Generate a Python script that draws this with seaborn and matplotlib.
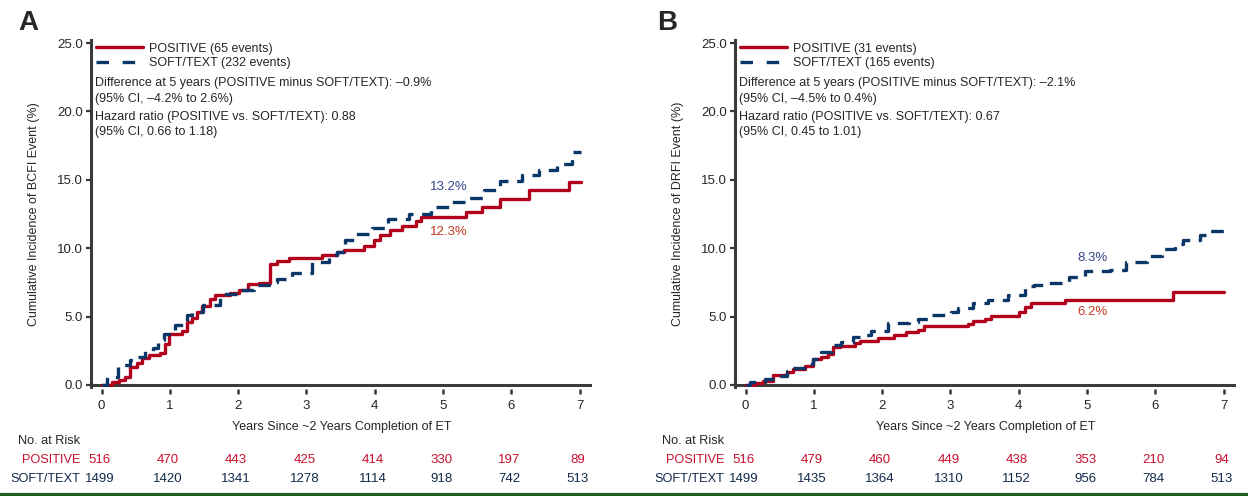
import numpy as np
import pandas as pd
import matplotlib.pyplot as plt
import matplotlib.transforms as mtransforms
import seaborn as sns

# curve values (years, cumulative incidence %)
a_pos_t = [0, 0.15, 0.25, 0.34, 0.41, 0.52, 0.59, 0.69, 0.86, 0.93, 0.99, 1.18, 1.25, 1.32, 1.40, 1.47,
           1.59, 1.66, 1.88, 2.01, 2.15, 2.30, 2.47, 2.57, 2.74, 3.23, 3.45, 3.55, 3.84, 3.99, 4.08,
           4.23, 4.40, 4.60, 4.67, 5.33, 5.57, 5.84, 6.26, 6.84, 7.02]
a_pos_y = [0, 0.2, 0.4, 0.57, 1.35, 1.6, 2.0, 2.16, 2.36, 3.0, 3.75, 3.94, 4.6, 4.9, 5.33, 5.77,
           6.3, 6.55, 6.72, 6.97, 7.36, 7.48, 8.82, 9.06, 9.3, 9.48, 9.7, 9.9, 10.14, 10.58, 11.0,
           11.36, 11.63, 12.0, 12.28, 12.65, 13.0, 13.63, 14.24, 14.85, 14.85]
a_soft_t = [0, 0.08, 0.24, 0.42, 0.49, 0.64, 0.76, 0.83, 0.91, 1.08, 1.25, 1.32, 1.49, 1.74, 2.01,
            2.23, 2.45, 2.57, 2.79, 3.08, 3.33, 3.45, 3.57, 3.72, 3.96, 4.20, 4.50, 4.82, 5.09, 5.35,
            5.60, 5.84, 6.16, 6.40, 6.67, 6.89, 7.02]
a_soft_y = [0, 0.57, 1.43, 1.84, 2.03, 2.52, 2.72, 3.26, 3.75, 4.36, 5.09, 5.33, 5.82, 6.62, 6.92,
            7.33, 7.53, 7.77, 8.18, 8.99, 9.48, 9.75, 10.6, 11.07, 11.5, 12.17, 12.48, 13.0, 13.38, 13.7,
            14.29, 14.92, 15.38, 15.75, 16.19, 17.04, 17.04]

b_pos_t = [0, 0.14, 0.26, 0.40, 0.60, 0.70, 0.87, 0.99, 1.11, 1.21, 1.28, 1.38, 1.60, 1.67, 1.94,
           2.18, 2.35, 2.53, 2.62, 3.26, 3.33, 3.50, 3.60, 4.01, 4.09, 4.18, 4.67, 6.26, 7.0]
b_pos_y = [0, 0.12, 0.32, 0.76, 0.93, 1.17, 1.41, 1.90, 2.02, 2.27, 2.76, 2.88, 3.05, 3.24, 3.44,
           3.66, 3.85, 4.05, 4.29, 4.46, 4.66, 4.83, 5.07, 5.37, 5.73, 5.98, 6.22, 6.83, 6.83]
b_soft_t = [0, 0.06, 0.28, 0.43, 0.60, 0.70, 0.89, 0.99, 1.11, 1.26, 1.40, 1.57, 1.70, 1.84, 2.09,
            2.40, 2.53, 2.67, 3.01, 3.11, 3.33, 3.55, 3.84, 4.09, 4.23, 4.40, 4.74, 4.97, 5.33, 5.57,
            5.87, 6.09, 6.28, 6.40, 6.65, 6.79, 7.0]
b_soft_y = [0, 0.2, 0.44, 0.68, 1.05, 1.24, 1.54, 1.90, 2.39, 2.95, 3.12, 3.49, 3.68, 3.98, 4.51,
            4.59, 4.83, 5.15, 5.32, 5.61, 5.98, 6.24, 6.61, 7.20, 7.34, 7.44, 7.88, 8.32, 8.41, 9.02,
            9.46, 9.95, 10.32, 10.61, 10.93, 11.29, 11.29]

years = [0, 1, 2, 3, 4, 5, 6, 7]
a_risk_pos = [516, 470, 443, 425, 414, 330, 197, 89]
a_risk_soft = [1499, 1420, 1341, 1278, 1114, 918, 742, 513]
b_risk_pos = [516, 479, 460, 449, 438, 353, 210, 94]
b_risk_soft = [1499, 1435, 1364, 1310, 1152, 956, 784, 513]

a_events = [65, 232]
b_events = [31, 165]
a_label_5y = ["13.2%", "12.3%"]
b_label_5y = ["8.3%", "6.2%"]

RED = "#b0001c"
NAVY = "#0b3768"
AXC = "#3a3a3a"

sns.set_style("white")
plt.rcParams['font.family'] = ['Liberation Sans', 'DejaVu Sans']
plt.rcParams['font.size'] = 9

W, H = 1248, 496
fig = plt.figure(figsize=(W / 100, H / 100), dpi=100)


def fy(y):
    return 1 - y / H


def panel(left_px, letter, letter_x, ylab, pos_t, pos_y, soft_t, soft_y, events, diff_txt, hr_txt,
          lab5, lab5_y, risk_pos, risk_soft):
    ax = fig.add_axes([left_px / W, fy(387.3), 501 / W, 347.3 / H])
    pos_name = f"POSITIVE ({events[0]} events)"
    soft_name = f"SOFT/TEXT ({events[1]} events)"
    df = pd.concat([
        pd.DataFrame({"t": pos_t, "y": pos_y, "grp": pos_name}),
        pd.DataFrame({"t": soft_t, "y": soft_y, "grp": soft_name}),
    ])
    sns.lineplot(data=df, x="t", y="y", hue="grp", style="grp", ax=ax,
                 palette={pos_name: RED, soft_name: NAVY},
                 dashes={pos_name: "", soft_name: (3.8, 2.6)},
                 drawstyle="steps-post", linewidth=2.4, legend=False,
                 estimator=None, sort=False)
    curves = list(ax.lines)
    ax.axhline(0, color=AXC, lw=2.2, zorder=1)

    ax.set_xlim(-0.154, 7.18)
    ax.set_ylim(-0.17, 25.22)
    ax.set_xticks(years)
    ax.set_yticks([0, 5, 10, 15, 20, 25])
    ax.set_yticklabels([f"{v:.1f}" for v in [0, 5, 10, 15, 20, 25]])
    for s in ["top", "right", "bottom"]:
        ax.spines[s].set_visible(False)
    ax.spines["bottom"].set_position(("outward", 1.5))
    ax.spines["left"].set_color(AXC)
    ax.spines["left"].set_linewidth(2.2)
    ax.tick_params(axis="x", bottom=True, direction="out", length=3.8, width=1.8, color=AXC,
                   pad=4.2, labelsize=9.5)
    ax.tick_params(axis="y", left=True, direction="out", length=3.6, width=1.6, color=AXC,
                   pad=2.2, labelsize=9.5)
    ax.set_xlabel("Years Since ~2 Years Completion of ET", fontsize=9, labelpad=6)
    ax.set_ylabel(ylab, fontsize=9, labelpad=12.5)

    leg = ax.legend(handles=curves[:2], labels=[pos_name, soft_name], loc="upper left",
                    bbox_to_anchor=(0.009, 0.992), frameon=False, handlelength=3.8,
                    handletextpad=0.5, labelspacing=0.2, borderpad=0, borderaxespad=0,
                    fontsize=9)
    leg.legend_handles[1].set_dashes((3.75, 4.1))

    x0 = (left_px + 4) / W
    fig.text(x0, fy(83.3), diff_txt[0], fontsize=9, va="center")
    fig.text(x0, fy(99), diff_txt[1], fontsize=9, va="center")
    fig.text(x0, fy(117.3), hr_txt[0], fontsize=9, va="center")
    fig.text(x0, fy(132.3), hr_txt[1], fontsize=9, va="center")

    ax.text(5.08, lab5_y[0], lab5[0], color="#34448a", fontsize=9.5, ha="center", va="center")
    ax.text(5.08, lab5_y[1], lab5[1], color="#c43a22", fontsize=9.5, ha="center", va="center")

    fig.text(letter_x / W, fy(23), letter, fontsize=20, fontweight="bold", ha="center", va="center")

    tr = mtransforms.blended_transform_factory(ax.transData, fig.transFigure)
    ax.text(-0.31, fy(440.7), "No. at Risk", transform=tr, ha="right", va="center",
            fontsize=9.2, clip_on=False)
    ax.text(-0.31, fy(460), "POSITIVE", transform=tr, ha="right", va="center",
            fontsize=9.2, color="#c8102e", clip_on=False)
    ax.text(-0.31, fy(478.7), "SOFT/TEXT", transform=tr, ha="right", va="center",
            fontsize=9.2, color="#13294b", clip_on=False)
    for yr, rp, rs in zip(years, risk_pos, risk_soft):
        ax.text(yr - 0.03, fy(460), str(rp), transform=tr, ha="center", va="center",
                fontsize=9.5, color="#c8102e", clip_on=False)
        ax.text(yr - 0.03, fy(478.7), str(rs), transform=tr, ha="center", va="center",
                fontsize=9.5, color="#13294b", clip_on=False)
    return ax


ax_a = panel(91, "A", 28, "Cumulative Incidence of BCFI Event (%)", a_pos_t, a_pos_y, a_soft_t, a_soft_y,
             a_events,
             ["Difference at 5 years (POSITIVE minus SOFT/TEXT): \u20130.9%", "(95% CI, \u20134.2% to 2.6%)"],
             ["Hazard ratio (POSITIVE vs. SOFT/TEXT): 0.88", "(95% CI, 0.66 to 1.18)"],
             a_label_5y, [14.46, 11.16], a_risk_pos, a_risk_soft)
ax_b = panel(735, "B", 667, "Cumulative Incidence of DRFI Event (%)", b_pos_t, b_pos_y, b_soft_t, b_soft_y,
             b_events,
             ["Difference at 5 years (POSITIVE minus SOFT/TEXT): \u20132.1%", "(95% CI, \u20134.5% to 0.4%)"],
             ["Hazard ratio (POSITIVE vs. SOFT/TEXT): 0.67", "(95% CI, 0.45 to 1.01)"],
             b_label_5y, [9.26, 5.31], b_risk_pos, b_risk_soft)

# green rule along the bottom edge
fig.add_artist(plt.Line2D([0, 1], [1.5 / H, 1.5 / H], transform=fig.transFigure, color="#1b5e20", lw=3))

fig.savefig("out.png", dpi=100)
